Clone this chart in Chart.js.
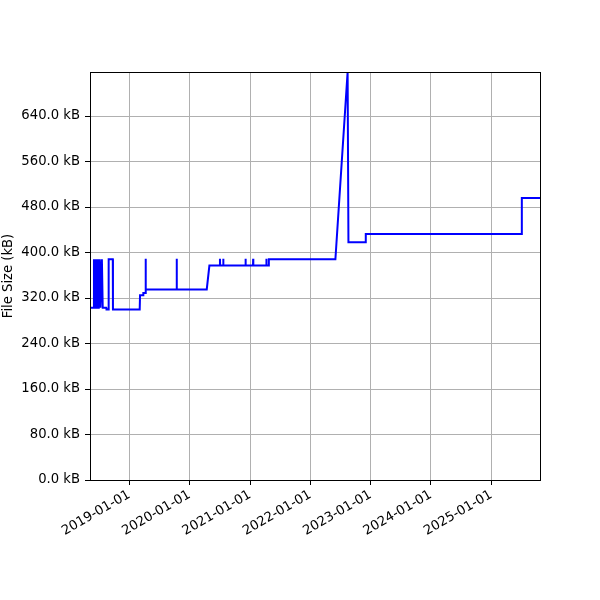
<!DOCTYPE html>
<html>
<head>
  <meta charset="UTF-8">
  <style>
    body { margin: 0; background: #fff; }
  </style>
  <script src="https://cdn.jsdelivr.net/npm/chart.js@4.4.0/dist/chart.umd.min.js"></script>
</head>
<body>
  <canvas id="myChart" width="600" height="600"></canvas>
  <script>
    // file size history (kB)
    const dates = [
      '2018-05-08', '2018-05-31', '2018-06-01', '2018-06-03', '2018-06-05', '2018-06-07',
      '2018-06-09', '2018-06-11', '2018-06-13', '2018-06-15', '2018-06-17', '2018-06-19',
      '2018-06-21', '2018-06-23', '2018-06-25', '2018-06-27', '2018-06-29', '2018-07-01',
      '2018-07-03', '2018-07-05', '2018-07-07', '2018-07-10', '2018-07-19', '2018-07-24',
      '2018-08-14', '2018-08-16', '2018-08-28', '2018-08-29', '2018-09-23', '2018-09-24',
      '2019-03-05', '2019-03-07', '2019-03-25', '2019-03-27', '2019-04-09', '2019-04-10',
      '2019-04-11', '2019-10-14', '2019-10-15', '2019-10-16', '2020-04-14', '2020-04-30',
      '2020-07-02', '2020-07-03', '2020-07-04', '2020-07-22', '2020-07-23', '2020-07-24',
      '2020-12-04', '2020-12-05', '2020-12-06', '2021-01-19', '2021-01-20', '2021-01-21',
      '2021-04-09', '2021-04-10', '2021-04-11', '2021-04-24', '2021-04-25', '2022-06-02',
      '2022-08-15', '2022-08-20', '2022-12-02', '2022-12-03', '2025-07-04', '2025-07-05',
      '2025-10-23'
    ];
    const sizes = [
      303, 303, 388, 303, 388, 303,
      388, 303, 388, 303, 388, 303,
      388, 303, 388, 303, 388, 303,
      388, 303, 388, 303, 388, 303,
      303, 300, 300, 388, 388, 300,
      300, 325, 325, 329, 329, 389,
      335, 335, 389, 335, 335, 377,
      377, 389, 377, 377, 389, 377,
      377, 389, 377, 377, 389, 377,
      377, 389, 377, 377, 388, 388,
      717.4, 418, 418, 432.5, 432.5, 496,
      496
    ];
    const yTicks = [0, 80, 160, 240, 320, 400, 480, 560, 640];
    const xTickLabels = ['2019-01-01', '2020-01-01', '2021-01-01', '2022-01-01', '2023-01-01', '2024-01-01', '2025-01-01'];
    const xMin = '2018-05-08';
    const xMax = '2025-10-23';
    const yMax = 717.4;

    function toMs(s) {
      let p = s.split('-');
      return Date.UTC(+p[0], +p[1] - 1, +p[2]);
    }
    function fmtDate(ms) {
      let d = new Date(ms);
      let m = String(d.getUTCMonth() + 1).padStart(2, '0');
      let dd = String(d.getUTCDate()).padStart(2, '0');
      return d.getUTCFullYear() + '-' + m + '-' + dd;
    }

    let points = dates.map(function(d, i) { return {x: toMs(d), y: sizes[i]}; });

    const frame = {
      id: 'frame',
      afterDraw: function(chart) {
        let a = chart.chartArea;
        let c = chart.ctx;
        c.save();
        c.strokeStyle = '#000';
        c.lineWidth = 1;
        c.strokeRect(Math.round(a.left) + 0.5, Math.round(a.top) + 0.5, Math.round(a.right - a.left), Math.round(a.bottom - a.top));
        c.restore();
      }
    };

    const font = {family: 'DejaVu Sans', size: 13.2};

    let ctx = document.getElementById('myChart').getContext('2d');
    let chart = new Chart(ctx, {
      type: 'line',
      data: {
        datasets: [{
          data: points,
          borderColor: '#0000ff',
          backgroundColor: 'transparent',
          borderWidth: 2,
          pointRadius: 0,
          tension: 0,
          clip: 3
        }]
      },
      options: {
        responsive: false,
        animation: false,
        layout: { padding: {top: 72, right: 60, left: 0, bottom: 0} },
        plugins: { legend: { display: false }, tooltip: { enabled: false } },
        scales: {
          x: {
            type: 'linear',
            min: toMs(xMin),
            max: toMs(xMax),
            afterBuildTicks: function(axis) {
              axis.ticks = xTickLabels.map(function(s) { return {value: toMs(s)}; });
            },
            afterFit: function(axis) { axis.height = 120; },
            border: { display: false },
            grid: { color: '#b0b0b0', tickColor: '#000', tickLength: 5, lineWidth: 1 },
            ticks: {
              color: '#000',
              font: font,
              minRotation: 30,
              maxRotation: 30,
              padding: 2,
              autoSkip: false,
              callback: function(v) { return fmtDate(v); }
            }
          },
          y: {
            min: 0,
            max: yMax,
            afterBuildTicks: function(axis) {
              axis.ticks = yTicks.map(function(v) { return {value: v}; });
            },
            afterFit: function(axis) { axis.width = 90; },
            border: { display: false },
            grid: { color: '#b0b0b0', tickColor: '#000', tickLength: 5, lineWidth: 1 },
            ticks: {
              color: '#000',
              font: font,
              padding: 5,
              callback: function(v) { return v.toFixed(1) + ' kB'; }
            },
            title: {
              display: true,
              text: 'File Size (kB)',
              color: '#000',
              font: font,
              padding: {top: 1, bottom: 2}
            }
          }
        }
      },
      plugins: [frame]
    });
  </script>
</body>
</html>
